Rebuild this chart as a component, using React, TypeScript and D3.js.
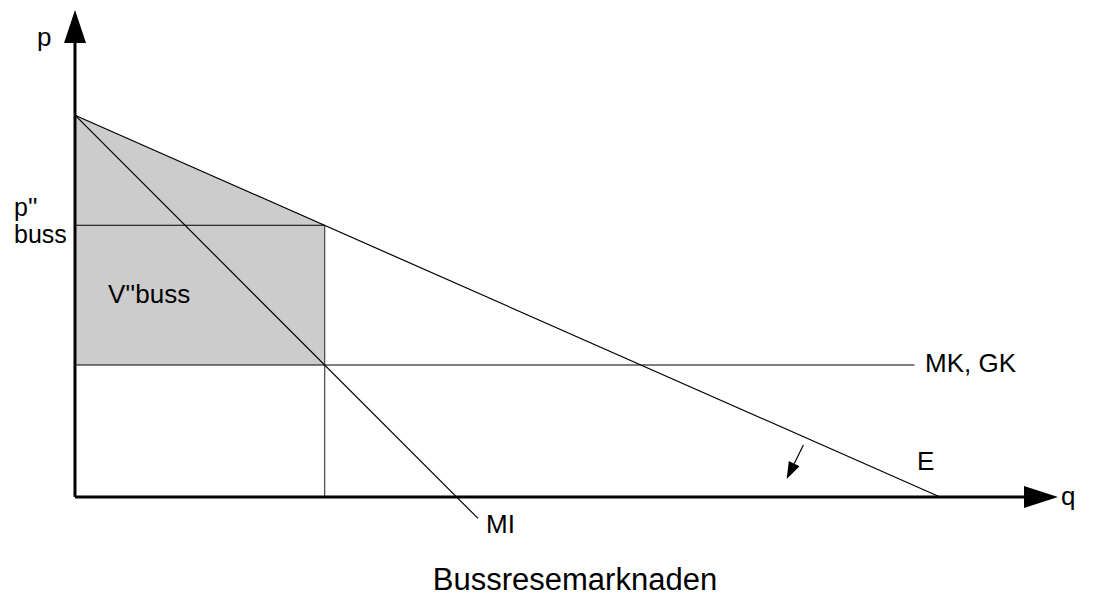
import React from "react";
import * as d3 from "d3";

const W = 1096;
const H = 599;

// model values (q, p)
const axisMax = { q: 100, p: 100 };
const demand = [
  { q: 0, p: 78.4 },
  { q: 88.0, p: 0 },
];
const marginalRevenue = [
  { q: 0, p: 78.4 },
  { q: 41.0, p: -4.4 },
];
const marginalCost = [
  { q: 0, p: 27.1 },
  { q: 85.4, p: 27.1 },
];
const qStar = 25.4;
const pStar = 55.8;
const shiftArrow = [
  { q: 74.1, p: 10.7 },
  { q: 72.4, p: 3.7 },
];

export default function App() {
  const x = d3.scaleLinear().domain([0, axisMax.q]).range([75, 1058]);
  const y = d3.scaleLinear().domain([0, axisMax.p]).range([497, 10]);
  const line = d3
    .line<{ q: number; p: number }>()
    .x((d) => x(d.q))
    .y((d) => y(d.p));

  const area = [
    { q: 0, p: demand[0].p },
    { q: qStar, p: pStar },
    { q: qStar, p: marginalCost[0].p },
    { q: 0, p: marginalCost[0].p },
  ];

  const ox = x(0);
  const oy = y(0);
  const topY = y(axisMax.p);
  const rightX = x(axisMax.q);

  // small arrow head
  const a0 = shiftArrow[0];
  const a1 = shiftArrow[1];
  const sx = x(a0.q), sy = y(a0.p), ex = x(a1.q), ey = y(a1.p);
  const len = Math.hypot(ex - sx, ey - sy);
  const ux = (ex - sx) / len, uy = (ey - sy) / len;
  const hl = 17, hw = 6;
  const bx = ex - ux * hl, by = ey - uy * hl;
  const head = `M${ex},${ey}L${bx - uy * hw},${by + ux * hw}L${bx + uy * hw},${by - ux * hw}Z`;

  const font = "'Liberation Sans', Arial, Helvetica, sans-serif";

  return (
    <svg
      width={W}
      height={H}
      style={{ position: "absolute", left: 0, top: 0, background: "#fff" }}
      fontFamily={font}
    >
      <path d={line(area) + "Z"} fill="#cccccc" stroke="none" />
      {/* p'' horizontal */}
      <line x1={ox} y1={y(pStar)} x2={x(qStar)} y2={y(pStar)} stroke="#000" strokeWidth={1.2} />
      {/* q* vertical */}
      <line x1={x(qStar)} y1={y(pStar)} x2={x(qStar)} y2={oy} stroke="#444" strokeWidth={1.2} />
      <path d={line(marginalCost)!} stroke="#000" strokeWidth={1.2} fill="none" />
      <path d={line(demand)!} stroke="#000" strokeWidth={1.2} fill="none" />
      <path d={line(marginalRevenue)!} stroke="#000" strokeWidth={1.2} fill="none" />

      {/* axes */}
      <line x1={ox} y1={oy} x2={rightX - 30} y2={oy} stroke="#000" strokeWidth={3} />
      <line x1={ox} y1={oy} x2={ox} y2={topY + 30} stroke="#000" strokeWidth={3} />
      <path d={`M${ox},${topY}L${ox - 11},${topY + 33}L${ox + 11},${topY + 33}Z`} fill="#000" />
      <path d={`M${rightX},${oy}L${rightX - 34},${oy - 11}L${rightX - 34},${oy + 11}Z`} fill="#000" />

      {/* shift arrow */}
      <line x1={sx} y1={sy} x2={bx} y2={by} stroke="#000" strokeWidth={1.2} />
      <path d={head} fill="#000" />

      <g fontSize={26} fill="#000">
        <text x={37} y={46}>p</text>
        <text x={108} y={303}>V''buss</text>
        <text x={925} y={372}>MK, GK</text>
        <text x={917} y={470}>E</text>
        <text x={486} y={533}>MI</text>
        <text x={1061} y={505}>q</text>
      </g>
      <g fontSize={25} fill="#000">
        <text x={14} y={216}>p''</text>
        <text x={14} y={243}>buss</text>
      </g>
      <text x={575} y={590} fontSize={31} textAnchor="middle" fill="#000">
        Bussresemarknaden
      </text>
    </svg>
  );
}
